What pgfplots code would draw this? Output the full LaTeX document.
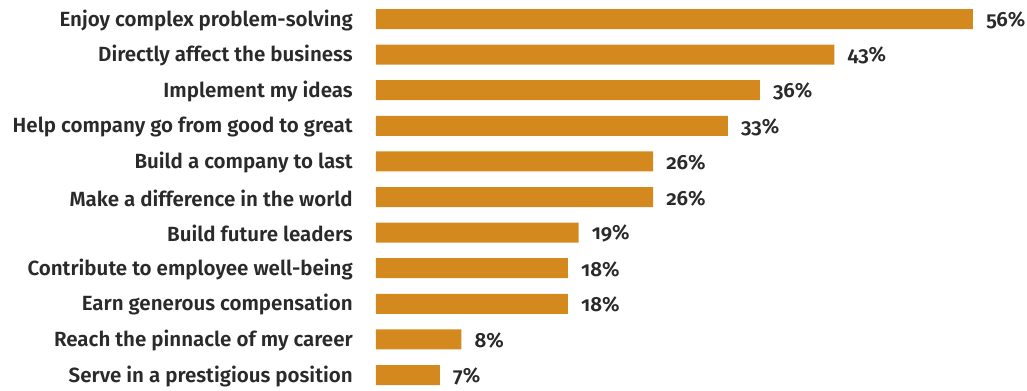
\documentclass[border=0pt]{standalone}
\usepackage{pgfplots}
\pgfplotsset{compat=1.18}
\usepackage{pgfplotstable}
\usepackage{fontspec}
\setmainfont{Fira Sans}[BoldFont={Fira Sans SemiBold}, BoldFeatures={Numbers=OldStyle}, Numbers=OldStyle]
\definecolor{barc}{HTML}{D4891E}
\definecolor{txt}{HTML}{2A2A2A}
\pgfplotstableread{
y x lab
0 56 56
1 43 43
2 36 36
3 33 33
4 26 26
5 26 26
6 19 19
7 18 18
8 18 18
9 8 8
10 6 7
}\data
\begin{document}
\begin{tikzpicture}
\begin{axis}[
  name=ax,
  scale only axis,
  width=447.75pt, height=292.5pt,
  xmin=0, xmax=56,
  ymin=-0.534, ymax=10.42,
  y dir=reverse,
  axis line style={draw=none},
  major tick length=0pt,
  xtick=\empty,
  ytick={0,...,10},
  yticklabels={Enjoy complex problem-solving, Directly affect the business, Implement my ideas, Help company go from good to great, Build a company to last, Make a difference in the world, Build future leaders, Contribute to employee well-being, Earn generous compensation, Reach the pinnacle of my career, Serve in a prestigious position},
  yticklabel style={font=\fontsize{15.4}{17}\selectfont\bfseries, text=txt, anchor=east, inner xsep=0pt, xshift=-17.25pt, yshift=-0.8pt},
  clip=false,
]
\addplot[xbar, bar width=15pt, fill=barc, draw=none,
  point meta=explicit symbolic,
  nodes near coords={\pgfplotspointmeta\%},
  nodes near coords style={font=\fontsize{15.4}{17}\selectfont\bfseries, text=txt, anchor=west, inner xsep=0pt, xshift=9.75pt, yshift=-0.8pt}]
  table[x=x, y=y, meta=lab]{\data};
\end{axis}
\pgfresetboundingbox
\path ([xshift=-282pt]ax.south west) rectangle ([xshift=40.5pt]ax.north east);
\end{tikzpicture}
\end{document}
